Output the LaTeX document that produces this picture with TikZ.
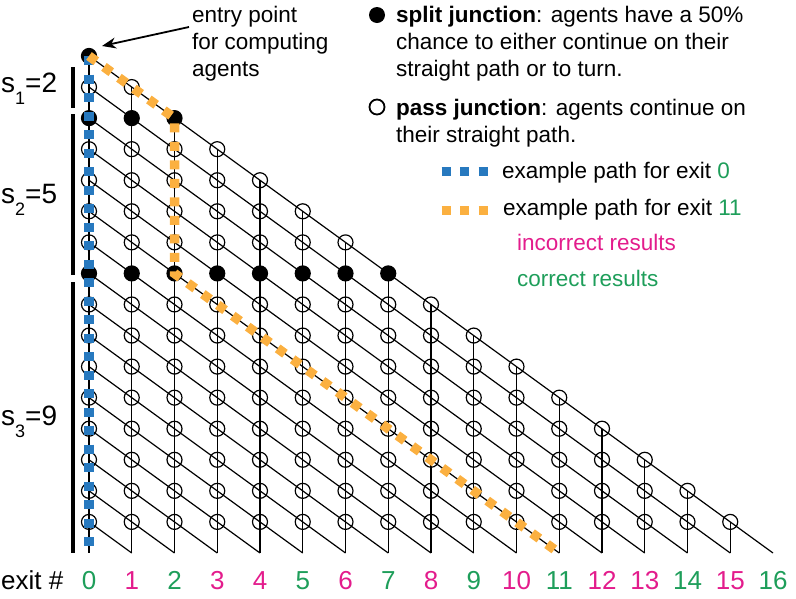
\documentclass[tikz,border=0pt]{standalone}
\usepackage{fontspec}
\setmainfont{Liberation Sans}
\usetikzlibrary{arrows.meta}
\definecolor{pblue}{HTML}{2779BF}
\definecolor{porange}{HTML}{FBB040}
\definecolor{pmag}{HTML}{E31C8C}
\definecolor{pgreen}{HTML}{1E9E5A}
\newcommand{\legfont}{\fontsize{22.5}{27}\selectfont}
\newcommand{\exfont}{\fontsize{26}{30}\selectfont}
\newcommand{\sfnt}{\fontsize{28}{30}\selectfont}
\begin{document}
\begin{tikzpicture}[x=1pt,y=-1pt,
  wire/.style={line width=1.2pt, black},
  junc/.style={circle, draw=black, line width=1.2pt, inner sep=0pt, minimum size=15pt},
  bluepath/.style={pblue, line width=9.5pt, dash pattern=on 9pt off 9.5pt},
  orangepath/.style={porange, line width=9.5pt, dash pattern=on 9pt off 9.5pt},
  scalebar/.style={line width=4.5pt, black},
  legtext/.style={anchor=base west, align=left, font=\legfont, inner sep=0pt},
  exitlbl/.style={anchor=base, font=\exfont, inner sep=0pt}
]
\useasboundingbox (0,0) rectangle (796,598);

% junctions
\foreach \i in {0,...,15}{
  \ifnum\i=0 \def\fc{black}\else\ifnum\i=2 \def\fc{black}\else\ifnum\i=7 \def\fc{black}\else\def\fc{none}\fi\fi\fi
  \foreach \j in {0,...,\i}{
    \node[junc, fill=\fc] (n-\i-\j) at ({89+42.75*\j},{56+31.06*\i}) {};
  }
}
% bottom ends
\foreach \j in {0,...,16}{
  \coordinate (b-\j) at ({89+42.75*\j},553);
}
% verticals
\foreach \j in {0,...,15}{
  \draw[wire] (n-\j-\j.center) -- (b-\j);
}
% diagonals
\foreach \k in {0,...,15}{
  \pgfmathtruncatemacro\e{16-\k}
  \draw[wire] (n-\k-0.center) -- (b-\e);
}

% example paths
\draw[bluepath] (n-0-0.center) -- (b-0);
\draw[orangepath, line join=miter] (n-0-0.center) -- (n-2-2.center) -- (n-7-2.center) -- (b-11);

% scale bars
\coordinate (s1a) at (73,67);  \coordinate (s1b) at (73,108);
\coordinate (s2a) at (73,114); \coordinate (s2b) at (73,275);
\coordinate (s3a) at (73,282); \coordinate (s3b) at (73,553);
\draw[scalebar] (s1a) -- (s1b);
\draw[scalebar] (s2a) -- (s2b);
\draw[scalebar] (s3a) -- (s3b);
\node[anchor=base west, font=\sfnt, inner sep=0pt] (s1) at (1,92) {s\raisebox{-12pt}{\fontsize{18}{18}\selectfont 1}=2};
\node[anchor=base west, font=\sfnt, inner sep=0pt] (s2) at (1,203) {s\raisebox{-12pt}{\fontsize{18}{18}\selectfont 2}=5};
\node[anchor=base west, font=\sfnt, inner sep=0pt] (s3) at (1,425) {s\raisebox{-12pt}{\fontsize{18}{18}\selectfont 3}=9};

% exit labels
\node[anchor=base west, font=\exfont, inner sep=0pt] (exit) at (1,589) {exit \#};
\foreach \j/\c in {0/pgreen,1/pmag,2/pgreen,3/pmag,4/pmag,5/pgreen,6/pmag,7/pgreen,8/pmag,9/pgreen,10/pmag,11/pgreen,12/pmag,13/pmag,14/pgreen,15/pmag,16/pgreen}{
  \node[exitlbl, text=\c] (e-\j) at ({89+42.75*\j},589) {\j};
}

% entry point (base anchor = baseline of the last line)
\node[legtext] (entry) at (192,76) {entry point\\for computing\\agents};
\coordinate (entrytail) at (189,27);
\draw[line width=1.8pt, -{Stealth[length=14pt, width=11pt]}] (entrytail) -- ([shift={(13,-10)}]n-0-0.center);

% legend
\node[circle, fill=black, inner sep=0pt, minimum size=16pt] (splitdot) at (377,15) {};
\node[legtext] (splittext) at (396,76) {\textbf{split junction}: agents have a 50\%\\chance to either continue on their\\straight path or to turn.};
\node[circle, draw=black, line width=1.8pt, inner sep=0pt, minimum size=15pt] (passdot) at (377,107) {};
\node[legtext] (passtext) at (396,142) {\textbf{pass junction}: agents continue on\\their straight path.};

\coordinate (lb1) at (441.5,171); \coordinate (lb2) at (487.5,171);
\draw[pblue, line width=9pt, dash pattern=on 9pt off 9.5pt] (lb1) -- (lb2);
\node[legtext] (bluetext) at (502,178) {example path for exit \textcolor{pgreen}{0}};
\coordinate (lo1) at (441.5,210); \coordinate (lo2) at (487.5,210);
\draw[porange, line width=9pt, dash pattern=on 9pt off 9.5pt] (lo1) -- (lo2);
\node[legtext] (orangetext) at (503,215) {example path for exit \textcolor{pgreen}{11}};
\node[legtext, text=pmag] (incorrect) at (517,250) {incorrect results};
\node[legtext, text=pgreen] (correct) at (517,286) {correct results};
\end{tikzpicture}
\end{document}
